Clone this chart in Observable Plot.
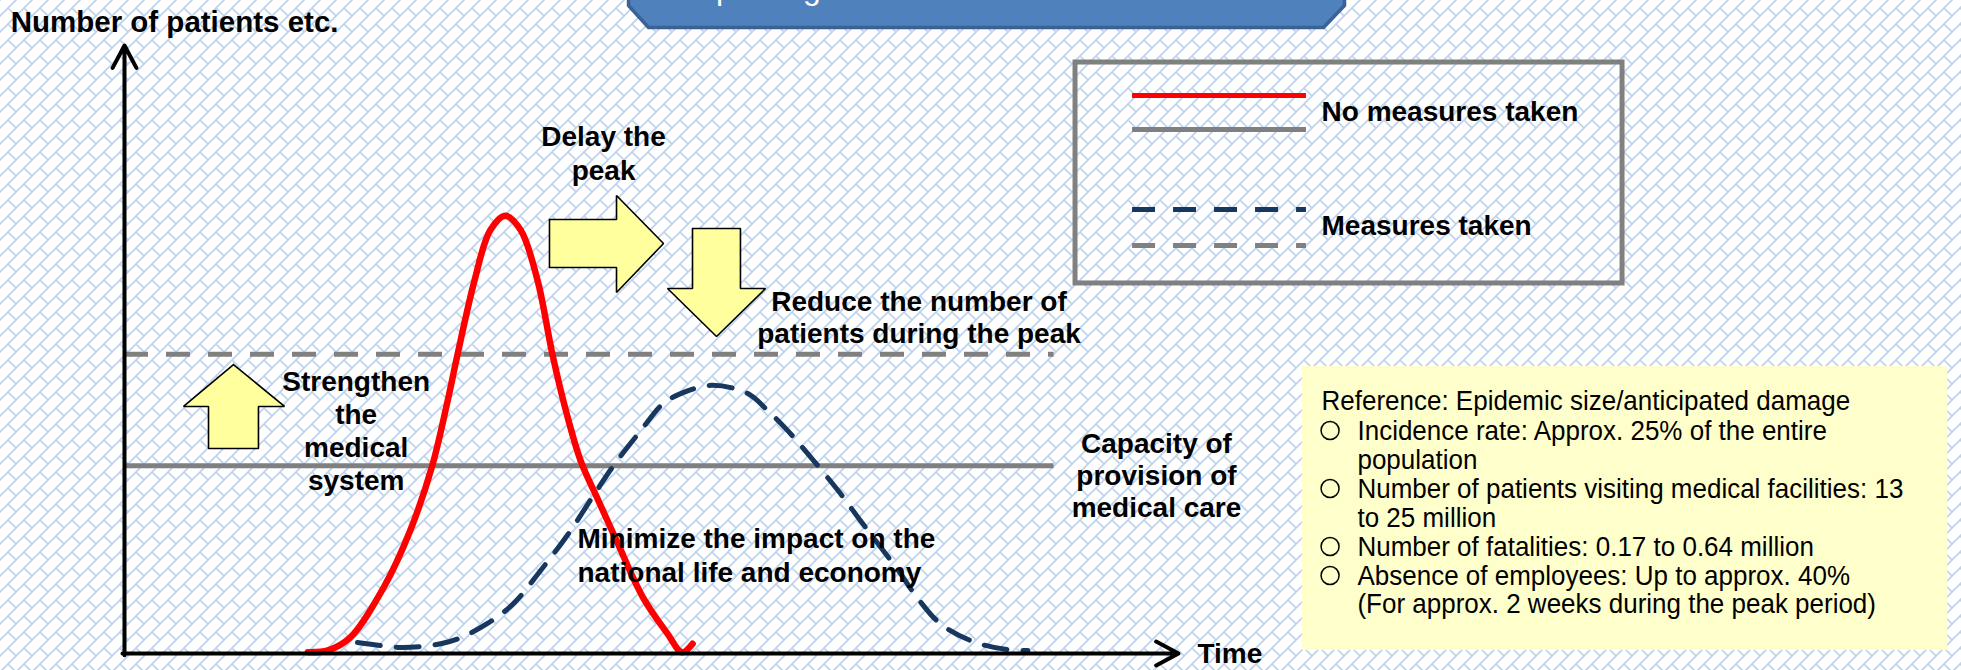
<!DOCTYPE html>
<html><head><meta charset="utf-8">
<script src="https://cdn.jsdelivr.net/npm/d3@7"></script>
<script src="https://cdn.jsdelivr.net/npm/@observablehq/plot@0.6"></script>
<style>
html,body{margin:0;padding:0;}
body{width:1961px;height:670px;overflow:hidden;background-color:#fff;
background-image:url("data:image/svg+xml;utf8,<svg xmlns='http://www.w3.org/2000/svg' width='16' height='16'><path d='M-2 18L18 -2M-4 4L4 -4M12 20L20 12M8 8L17 17M-1 -1L0 0' stroke='%23bfd2ec' stroke-width='1.7' fill='none'/></svg>");
background-size:16px 16px;}
#chart svg{display:block}
</style></head>
<body><div id="chart"></div>
<script>
// ---- data (conceptual units: time 0..100, patients 0..100) ----
const noMeasures = [[17.4,0.2],[19.3,0.5],[21.4,2.6],[24.6,10.9],[27.1,20.2],[29.2,30.9],[30.6,41.1],[31.6,49.2],[33.2,61.3],[34.7,69.6],[36.15,72.0],[37.6,69.6],[39.2,61.3],[40.6,49.2],[41.9,39.8],[43.3,31.6],[45.0,25.0],[46.8,18.1],[49.2,9.2],[51.5,3.3],[52.9,0.2],[53.9,1.6]];
const measures = [[22.1,1.8],[24.3,1.3],[26.2,1.0],[28.1,1.15],[30.0,1.6],[31.9,2.6],[34.4,4.9],[36.9,8.2],[39.5,13.7],[42.0,19.4],[44.5,26.0],[46.4,30.9],[49.0,36.7],[51.1,41.1],[53.0,42.9],[55.7,44.1],[59.1,42.8],[61.0,40.0],[62.9,36.7],[64.8,32.9],[67.7,26.8],[69.8,21.9],[72.0,16.9],[73.6,13.2],[75.2,9.2],[77.4,4.9],[80.3,2.1],[82.5,1.0],[84.7,0.5],[85.7,0.5]];
const capacityNow = 30.9;
const capacityStrengthened = 49.2;
const capacityExtent = [0, 88.2];

// annotation shapes (block arrows, title box) in chart units
const rightArrow = [[40.32,71.38],[46.68,71.38],[46.68,75.33],[51.14,67.43],[46.68,59.38],[46.68,63.49],[40.32,63.49],[40.32,71.38]];
const downArrow = [[53.89,69.90],[58.44,69.90],[58.44,60.03],[60.82,60.03],[56.17,52.14],[51.52,60.03],[53.89,60.03],[53.89,69.90]];
const upArrow = [[10.34,47.53],[15.18,40.63],[12.71,40.63],[12.71,33.72],[7.97,33.72],[7.97,40.63],[5.60,40.63],[10.34,47.53]];
const titleShape = [[47.82,109.5],[47.82,106.58],[49.72,102.96],[113.76,102.96],[115.75,106.58],[115.75,109.5],[47.82,109.5]];
const titleText = "Concept image of the effect of measures";

const labels = ["Number of patients etc.", "Delay the\npeak", "Reduce the number of\npatients during the peak", "Strengthen\nthe\nmedical\nsystem", "Capacity of\nprovision of\nmedical care", "Minimize the impact on the\nnational life and economy", "Time"];
const labelX = [-10.8, 45.45, 75.38, 21.98, 97.91, 42.98, 101.8];
const labelY = [102.3, 77.96, 51.15, 26.81, 22.5, 11.84, -1.6];
const labelAnchor = ["start", "middle", "middle", "middle", "middle", "start", "start"];
const labelLineHeight = [1, 1.18, 1.14, 1.19, 1.14, 1.18, 1];
const labelSize = [29.5, 28, 28, 28, 28, 28, 28];

// legend
const legendBox = [90.23, 142.13, 97.2, 60.86];
const legendLineX = [95.64, 112.14];
const legendLineY = {red: 91.78, gray: 86.18, navy: 73.03, grayDash: 67.11};
const legendLabels = ["No measures taken", "Measures taken"];
const legendLabelY = [87.66, 68.91];
const legendLabelX = 113.57;

// reference box
const infoBox = [111.76, 172.98, 47.2, 0.49];
const infoTitle = "Reference: Epidemic size/anticipated damage";
const infoLines = ["Incidence rate: Approx. 25% of the entire", "population", "Number of patients visiting medical facilities: 13", "to 25 million", "Number of fatalities: 0.17 to 0.64 million", "Absence of employees: Up to approx. 40%", "(For approx. 2 weeks during the peak period)"];
const infoBulletY = [36.68, 27.14, 17.60, 12.83];
const infoTitleY = 39.97;
const infoLastY = 6.58;
const infoX = [113.57, 116.98, 114.38];

const font = "Liberation Sans, Arial, Helvetica, sans-serif";
const px = d => d[0], py = d => d[1];

const marks = [
  Plot.rect([0], {x1: infoBox[0], x2: infoBox[1], y1: infoBox[2], y2: infoBox[3], fill: "#FFFFCC"}),
  Plot.line(titleShape, {x: px, y: py, fill: "#4F81BD", stroke: "#3A6296", strokeWidth: 3.5}),
  Plot.text([titleText], {x: 47.34, y: 107.73, text: d => d, textAnchor: "start", lineAnchor: "bottom", fill: "white", fontSize: 32, fontFamily: font}),
  Plot.ruleY([capacityNow], {x1: capacityExtent[0], x2: capacityExtent[1], stroke: "#808080", strokeWidth: 5}),
  Plot.ruleY([capacityStrengthened], {x1: capacityExtent[0], x2: capacityExtent[1], stroke: "#808080", strokeWidth: 5, strokeDasharray: "24,18"}),
  Plot.line(measures, {x: px, y: py, curve: "catmull-rom", stroke: "#17375E", strokeWidth: 5, strokeDasharray: "23,16"}),
  Plot.line(noMeasures, {x: px, y: py, curve: "catmull-rom", stroke: "#FF0000", strokeWidth: 6.5, strokeLinecap: "round"}),
  Plot.arrow([0], {x1: 0, y1: -0.3, x2: 0, y2: 100, stroke: "black", strokeWidth: 4, headLength: 9.5, headAngle: 56}),
  Plot.arrow([0], {x1: -0.19, y1: 0, x2: 100, y2: 0, stroke: "black", strokeWidth: 4, headLength: 9.5, headAngle: 56}),
  ...[rightArrow, downArrow, upArrow].map(a => Plot.line(a, {x: px, y: py, fill: "#FFFF9E", stroke: "black", strokeWidth: 1.6, strokeLinejoin: "miter"})),
  ...labels.map((t, i) => Plot.text([t], {x: labelX[i], y: labelY[i], text: d => d, textAnchor: labelAnchor[i], lineAnchor: "bottom", lineHeight: labelLineHeight[i], fontSize: labelSize[i], fontWeight: "bold", fontFamily: font, fill: "black"})),
  // legend
  Plot.rect([0], {x1: legendBox[0], x2: legendBox[1], y1: legendBox[2], y2: legendBox[3], fill: "none", stroke: "#808080", strokeWidth: 5}),
  Plot.ruleY([legendLineY.red], {x1: legendLineX[0], x2: legendLineX[1], stroke: "#FF0000", strokeWidth: 5}),
  Plot.ruleY([legendLineY.gray], {x1: legendLineX[0], x2: legendLineX[1], stroke: "#808080", strokeWidth: 5}),
  Plot.ruleY([legendLineY.navy], {x1: legendLineX[0], x2: legendLineX[1], stroke: "#17375E", strokeWidth: 5, strokeDasharray: "23,18"}),
  Plot.ruleY([legendLineY.grayDash], {x1: legendLineX[0], x2: legendLineX[1], stroke: "#808080", strokeWidth: 5, strokeDasharray: "23,18"}),
  Plot.text(legendLabels, {x: legendLabelX, y: (d, i) => legendLabelY[i], text: d => d, textAnchor: "start", lineAnchor: "bottom", fontSize: 28, fontWeight: "bold", fontFamily: font, fill: "black"}),
  // reference box text (slightly condensed, like the original)
  Plot.text([infoTitle], {x: infoX[0], y: infoTitleY, text: d => d, textAnchor: "start", lineAnchor: "bottom", fontSize: 28.5, fontFamily: font, fill: "black"}),
  Plot.text([infoLines.join("\n")], {x: infoX[1], y: infoLastY, text: d => d, textAnchor: "start", lineAnchor: "bottom", lineHeight: 1.017, fontSize: 28.5, fontFamily: font, fill: "black"}),
  Plot.dot(infoBulletY, {x: infoX[2], y: d => d, r: 9, stroke: "black", strokeWidth: 1.5, fill: "none"})
];

const chart = Plot.plot({
  width: 1961, height: 670, margin: 0,
  x: {domain: [0, 100], range: [124, 1178], axis: null},
  y: {domain: [0, 100], range: [653, 45], axis: null},
  style: {background: "transparent", overflow: "visible"},
  marks
});
// condense the reference-box text horizontally (the original uses a narrow face)
d3.select(chart).selectAll('g[font-size="28.5"] text').each(function() {
  const t = this.getAttribute("transform") || "";
  this.setAttribute("transform", t + " scale(0.912,1)");
});
document.getElementById("chart").append(chart);
</script></body></html>
